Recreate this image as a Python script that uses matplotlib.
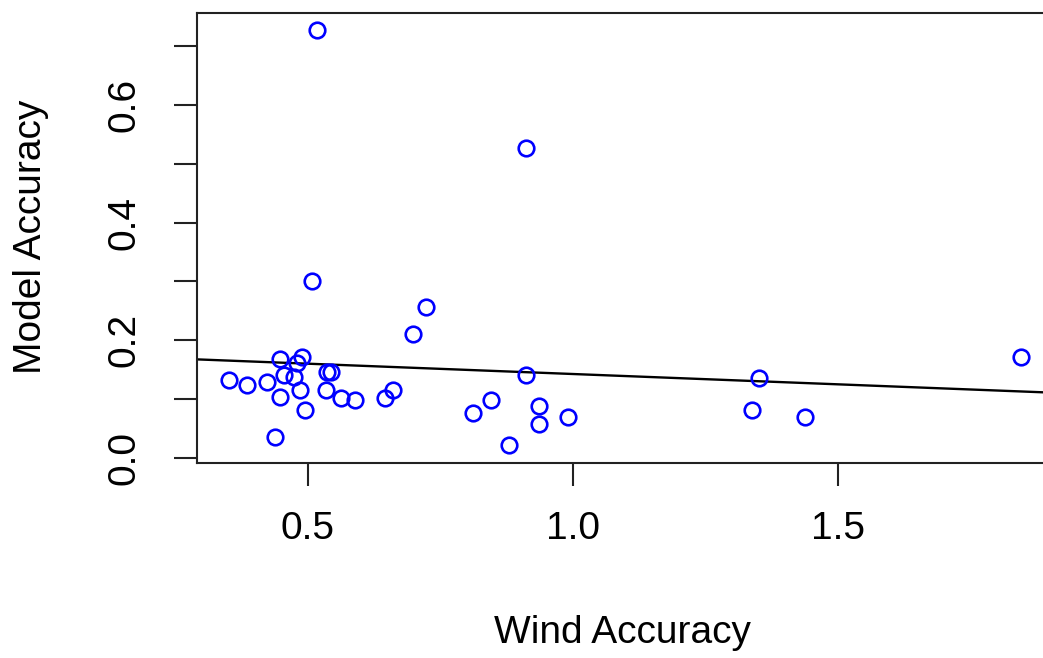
import matplotlib
matplotlib.use("Agg")
import matplotlib.pyplot as plt
import numpy as np

# Data
wind_accuracy = [0.518, 0.912, 0.509, 0.723, 0.699, 1.845, 0.912, 1.352, 0.845, 0.812,
                 0.936, 0.936, 0.992, 0.879, 1.338, 1.438,
                 0.352, 0.385, 0.423, 0.447, 0.490, 0.480, 0.456, 0.474, 0.447, 0.485,
                 0.495, 0.438, 0.537, 0.543, 0.535, 0.562, 0.589, 0.646, 0.660]
model_accuracy = [0.727, 0.526, 0.300, 0.257, 0.211, 0.172, 0.141, 0.137, 0.099, 0.077,
                  0.088, 0.059, 0.070, 0.023, 0.082, 0.070,
                  0.133, 0.124, 0.129, 0.168, 0.172, 0.161, 0.141, 0.138, 0.104, 0.116,
                  0.082, 0.036, 0.147, 0.147, 0.116, 0.103, 0.099, 0.102, 0.116]
fit_intercept = 0.178
fit_slope = -0.035

x_ticks = [0.5, 1.0, 1.5]
x_tick_labels = ["0.5", "1.0", "1.5"]
y_ticks = [0.0, 0.1, 0.2, 0.3, 0.4, 0.5, 0.6, 0.7]
y_tick_labels = ["0.0", "", "0.2", "", "0.4", "", "0.6", ""]

plt.rcParams['font.family'] = ['Liberation Sans', 'DejaVu Sans']

W, H = 1043, 658
fig = plt.figure(figsize=(W / 100, H / 100), dpi=100)
left_px, right_px, top_px, bottom_px = 197, 1060.3, 13, 463
ax = fig.add_axes([left_px / W, (H - bottom_px) / H,
                   (right_px - left_px) / W, (bottom_px - top_px) / H])

ax.plot(wind_accuracy, model_accuracy, linestyle='none', marker='o',
        markersize=11.2, markerfacecolor='none', markeredgecolor='#0000FF',
        markeredgewidth=1.9, clip_on=False, zorder=3)
ax.axline((0, fit_intercept), slope=fit_slope, color='black', lw=1.7, zorder=2)

ax.set_xlim(0.2911, 1.92)
ax.set_ylim(-0.008, 0.7555)

ax.set_xticks(x_ticks)
ax.set_xticklabels(x_tick_labels)
ax.set_yticks(y_ticks)
ax.set_yticklabels(y_tick_labels, rotation=90, va='center')

ax.tick_params(axis='both', direction='out', length=16.5, width=1.5,
               color='#222222', labelsize=28, labelcolor='black')
ax.tick_params(axis='x', pad=18)
ax.tick_params(axis='y', pad=23)

for side in ['left', 'bottom', 'top', 'right']:
    ax.spines[side].set_linewidth(1.5)
    ax.spines[side].set_color('#222222')

fig.text(622 / W, 1 - 633 / H, "Wind Accuracy", ha='center', va='center', fontsize=28)
fig.text(31 / W, 1 - 237 / H, "Model Accuracy", ha='center', va='center',
         rotation=90, fontsize=28)

fig.savefig("out.png", dpi=100, facecolor='white')
